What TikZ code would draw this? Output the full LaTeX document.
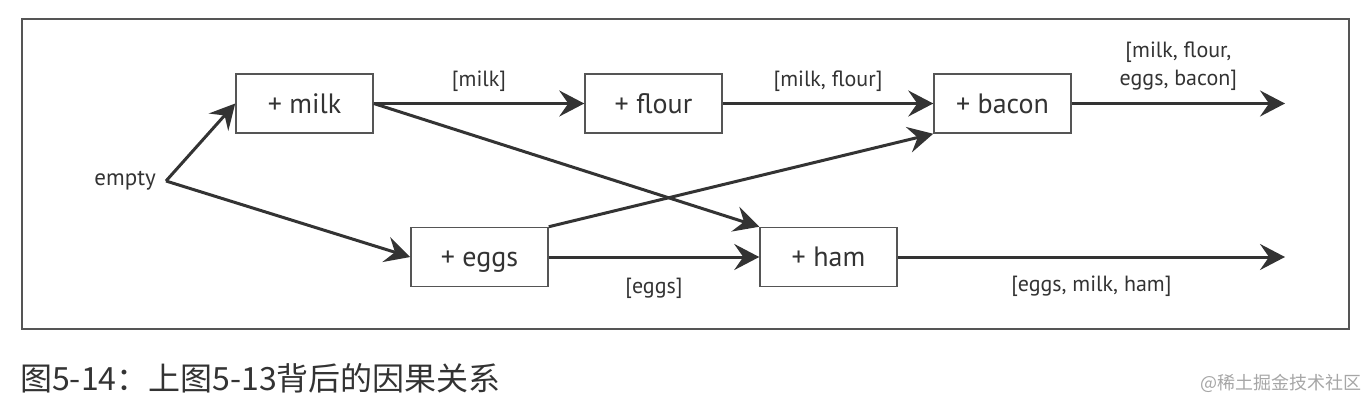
\documentclass[tikz,border=0pt]{standalone}
\usepackage{fontspec}
\setmainfont{PT Sans}
\newfontfamily\cjk{Noto Sans CJK SC}
\usetikzlibrary{arrows.meta}
\definecolor{ink}{HTML}{333333}
\definecolor{edge}{HTML}{555555}
\begin{document}
\begin{tikzpicture}[x=1pt, y=-1pt, node distance=349pt, auto]
        \tikzstyle{ingred}=[draw=edge, line width=1.5pt, rectangle, minimum width=137pt, minimum height=59pt, text height=22pt, text depth=3pt, text=ink, font=\fontsize{28}{30}\selectfont];
        \tikzstyle{flow}=[draw=ink, line width=3pt, -{Stealth[length=25pt, width=26pt, inset=9pt]}];
        \tikzstyle{lbl}=[text=ink, font=\fontsize{22}{28}\selectfont, align=center];

        \useasboundingbox (0,0) rectangle (1368,402);
        \draw[edge, line width=1.5pt] (22,19) rectangle (1349,329);

        \node[ingred] (milk) at (304.5,103.5) {+ milk};
        \node[ingred, right of=milk] (flour) {+ flour};
        \node[ingred, right of=flour] (bacon) {+ bacon};
        \node[ingred] (eggs) at (479.5,257) {+ eggs};
        \node[ingred, right of=eggs] (ham) {+ ham};
        \node[lbl, anchor=east, inner xsep=10pt, font=\fontsize{23}{28}\selectfont] (empty) at (166,181) {empty};
        \coordinate (baconout) at (1285,103.5);
        \coordinate (hamout) at (1285,257);

        \draw[flow] (empty.east) -- (milk.west);
        \draw[flow] (empty.east) -- (eggs.west);
        \draw[flow] (milk.east) -- node[lbl, midway, above=7pt] {[milk]} (flour.west);
        \draw[flow] (flour.east) -- node[lbl, midway, above=7pt] {[milk, flour]} (bacon.west);
        \draw[flow] (bacon.east) -- node[lbl, midway, above=8pt] {[milk, flour,\\ eggs, bacon]} (baconout);
        \draw[flow] (milk.east) -- (ham.north west);
        \draw[flow] (eggs.north east) -- (bacon.south west);
        \draw[flow] (eggs.east) -- node[lbl, midway, below=16pt] {[eggs]} (ham.west);
        \draw[flow] (ham.east) -- node[lbl, midway, below=14pt] {[eggs, milk, ham]} (hamout);

        \node[anchor=west, inner sep=0pt, text=ink, font=\cjk\fontsize{32}{36}\selectfont] (caption) at (20,378) {图5-14：上图5-13背后的因果关系};
        \node[anchor=east, inner sep=0pt, text=gray!70, font=\cjk\fontsize{18}{20}\selectfont] (mark) at (1362,383) {@稀土掘金技术社区};
    \end{tikzpicture}
\end{document}
